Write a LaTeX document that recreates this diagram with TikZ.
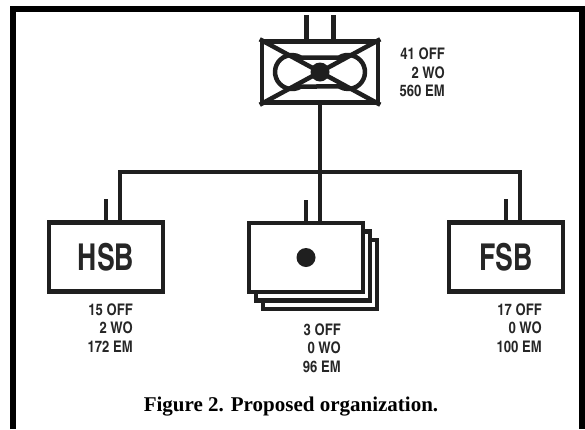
\documentclass[tikz,border=0pt]{standalone}
\usepackage{fontspec}
\setmainfont{Liberation Serif}
\newfontfamily\condfont{texgyreheroscn-bold.otf}
\newfontfamily\bigcondfont{texgyreheroscn-bold.otf}[FakeStretch=0.88]
\usetikzlibrary{positioning}

\begin{document}
\begin{tikzpicture}[x=1pt,y=-1pt,
    ink/.style={draw=black!88,line width=4.5pt},
    unit/.style={ink,rectangle,inner sep=0pt,minimum width=114pt,minimum height=69pt,
      font=\bigcondfont\fontsize{37}{37}\selectfont,text=black!85},
    link/.style={ink,line join=miter},
    tick/.style={ink,line cap=butt},
    strength/.style={font=\condfont\fontsize{16}{18.5}\selectfont,text=black!85,
      align=right,anchor=north east,inner sep=0pt}]
        \useasboundingbox (0,0) rectangle (585,429);
        % frame
        \draw[line width=6pt] (13,429) -- (13,9) -- (582,9) -- (582,429);

        % battalion
        \node[ink,minimum width=116pt,minimum height=61pt,inner sep=0pt] (top) at (320,72) {};
        \draw[ink] (top.north west) -- (top.south east);
        \draw[ink] (top.north east) -- (top.south west);
        % two rings joined by a band
        \draw[ink,line join=round] (300.9,57.5) -- (339.1,57.5)
          arc[start angle=121.5,end angle=-121.5,radius=17pt]
          -- (300.9,86.5)
          arc[start angle=-58.5,end angle=-301.5,radius=17pt] -- cycle;
        \fill[black!88] (top.center) circle (9.5);
        \draw[tick] ([xshift=-13.5pt]top.north) -- ++(0,-24);
        \draw[tick] ([xshift=13.5pt]top.north) -- ++(0,-24);
        \node[strength] (topnum) at (445,48) {41 OFF\\2 WO\\560 EM};

        % units
        \node[unit] (hsb) at (106,257) {HSB};
        \node[unit,fill=white] (dsb3) at (320,274.5) {};
        \node[unit,fill=white] (dsb2) at (313,266) {};
        \node[unit,fill=white] (dsb) at (306,257.5) {};
        \fill[black!88] (dsb.center) circle (9.5);
        \node[unit] (fsb) at (506,257) {FSB};

        \draw[tick] (hsb.north) -- ++(0,-21);
        \draw[tick] (dsb.north) -- ++(0,-21);
        \draw[tick] (fsb.north) -- ++(0,-21);

        \coordinate (bus) at (320,172);
        \draw[link] (top.south) -- ([xshift=14pt]dsb.north);
        \draw[link] ([xshift=14pt]hsb.north) |- (bus) -| ([xshift=14pt]fsb.north);

        \node[strength] (hsbnum) at (133,303) {15 OFF\\2 WO\\172 EM};
        \node[strength] (dsbnum) at (341,323) {3 OFF\\0 WO\\96 EM};
        \node[strength] (fsbnum) at (542,303) {17 OFF\\0 WO\\100 EM};

        \node[font=\bfseries\fontsize{21}{21}\selectfont] (caption) at (291,407) {Figure 2. Proposed organization.};
\end{tikzpicture}
\end{document}
